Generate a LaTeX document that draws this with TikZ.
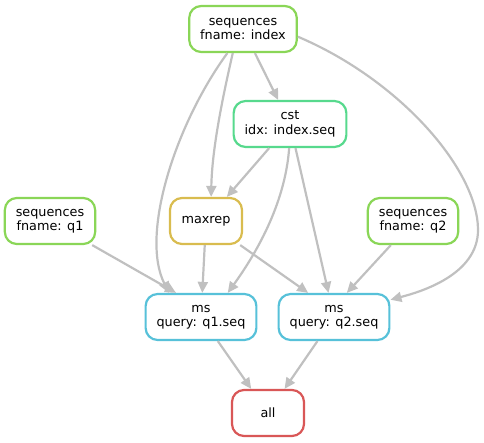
\documentclass[tikz,border=0pt]{standalone}
\usepackage{fontspec}
\setmainfont{DejaVu Sans}
\usetikzlibrary{arrows.meta}
\definecolor{seqcol}{HTML}{8AD657}
\definecolor{cstcol}{HTML}{57D98D}
\definecolor{maxcol}{HTML}{D9BC4F}
\definecolor{mscol}{HTML}{57C1D9}
\definecolor{allcol}{HTML}{D95757}
\definecolor{edgecol}{HTML}{C0C0C0}

\begin{document}
\begin{tikzpicture}[x=1pt, y=-1pt,
	rule/.style={draw, line width=2.2pt, rounded corners=12pt, fill=white, align=center,
		minimum height=46pt, minimum width=72pt, inner xsep=11pt,
		font=\fontsize{12.8}{14.5}\selectfont},
	edge/.style={draw=edgecol, line width=2.2pt, -{Triangle[length=11pt, width=10pt, fill=edgecol]}}]
	\useasboundingbox (0,0) rectangle (484,443);

	\node[rule, draw=seqcol] at (243, 29) (seqidx) {sequences\\fname: index};
	\node[rule, draw=cstcol] at (290, 124) (cst) {cst\\idx: index.seq};
	\node[rule, draw=seqcol] at (50, 221) (seqq1) {sequences\\fname: q1};
	\node[rule, draw=maxcol] at (206, 221) (maxrep) {maxrep};
	\node[rule, draw=seqcol] at (413, 221) (seqq2) {sequences\\fname: q2};
	\node[rule, draw=mscol] at (201, 317) (msq1) {ms\\query: q1.seq};
	\node[rule, draw=mscol] at (334, 317) (msq2) {ms\\query: q2.seq};
	\node[rule, draw=allcol] at (268, 413) (all) {all};

	\draw[edge] (seqidx) -- (cst);
	\draw[edge] (seqidx.-113) .. controls (222, 100) and (212, 150) .. (maxrep.78);
	\draw[edge] (seqidx.-123) .. controls (175, 125) and (140, 235) .. (msq1.143);
	\draw[edge] (seqidx.-8) .. controls (400, 80) and (478, 170) .. (478, 230)
		.. controls (478, 275) and (420, 292) .. (msq2.17);
	\draw[edge] (cst) -- (maxrep);
	\draw[edge] (cst.-92) .. controls (285, 205) and (255, 255) .. (msq1.42);
	\draw[edge] (cst) -- (msq2);
	\draw[edge] (seqq1) -- (msq1.136);
	\draw[edge] (maxrep) -- (msq1);
	\draw[edge] (maxrep) -- (msq2.137);
	\draw[edge] (seqq2) -- (msq2.62);
	\draw[edge] (msq1) -- (all);
	\draw[edge] (msq2) -- (all);
\end{tikzpicture}
\end{document}
